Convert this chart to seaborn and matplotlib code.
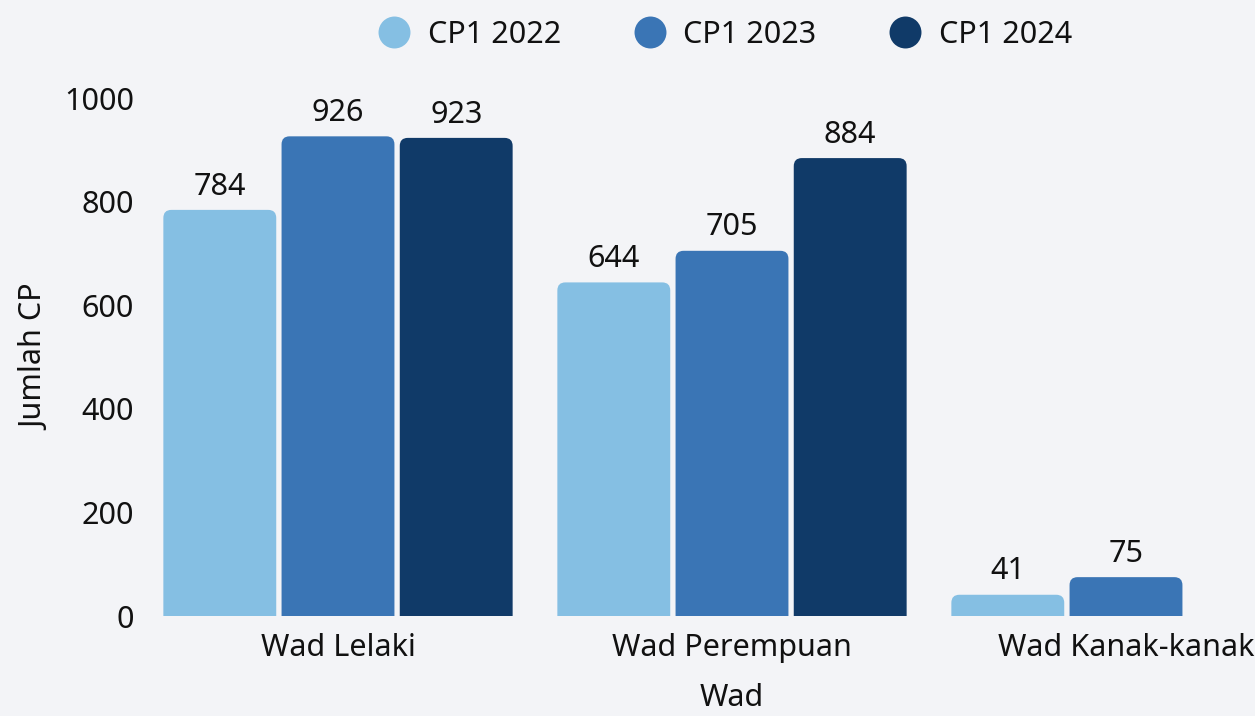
import matplotlib
matplotlib.use("Agg")
import matplotlib.pyplot as plt
import seaborn as sns
import pandas as pd
import numpy as np
from matplotlib.patches import FancyBboxPatch
from matplotlib.lines import Line2D

categories = ["Wad Lelaki", "Wad Perempuan", "Wad Kanak-kanak"]
series_names = ["CP1 2022", "CP1 2023", "CP1 2024"]
cp1_2022 = [784, 644, 41]
cp1_2023 = [926, 705, 75]
cp1_2024 = [923, 884, np.nan]
colors = ["#85BFE3", "#3A75B5", "#103A68"]

rows = []
for name, vals in zip(series_names, [cp1_2022, cp1_2023, cp1_2024]):
    for c, v in zip(categories, vals):
        rows.append({"Wad": c, "Series": name, "Jumlah CP": v})
df = pd.DataFrame(rows)

sns.set_theme(style="white")
plt.rcParams["font.family"] = ["Noto Sans", "DejaVu Sans"]

W, H = 1255, 716
FS = 22
TXT = "#111111"
fig = plt.figure(figsize=(W / 100, H / 100), dpi=100)
bg = "#F3F4F7"
fig.patch.set_facecolor(bg)
ax = fig.add_axes([141 / W, (H - 616) / H, (1323 - 141) / W, (616 - 98) / H])
ax.set_facecolor("none")

sns.barplot(data=df, x="Wad", y="Jumlah CP", hue="Series", order=categories,
            hue_order=series_names, palette=colors, width=0.9, gap=0.045,
            saturation=1, ax=ax, legend=False, errorbar=None)

ax.set_xlim(-0.5, 2.5)
ax.set_ylim(0, 1000)
ax.set_yticks([0, 200, 400, 600, 800, 1000])

for cont in ax.containers:
    labels = [("" if (v is None or np.isnan(v)) else f"{int(round(v))}") for v in cont.datavalues]
    ax.bar_label(cont, labels=labels, padding=6, fontsize=FS, color=TXT)

# rounded top corners
fig.canvas.draw()
px_per_x = ax.transData.transform((1, 0))[0] - ax.transData.transform((0, 0))[0]
px_per_y = ax.transData.transform((0, 1))[1] - ax.transData.transform((0, 0))[1]
aspect = px_per_x / px_per_y
r = 8 / px_per_x
for p in list(ax.patches):
    x, y = p.get_x(), p.get_y()
    w, h = p.get_width(), p.get_height()
    if np.isnan(h) or h == 0:
        p.remove()
        continue
    fc = p.get_facecolor()
    p.remove()
    ext = r * aspect
    fb = FancyBboxPatch((x, y - ext), w, h + ext,
                        boxstyle=f"round,pad=0,rounding_size={r}",
                        mutation_aspect=aspect, facecolor=fc, edgecolor="none",
                        clip_on=True)
    ax.add_patch(fb)

for s in ax.spines.values():
    s.set_visible(False)
ax.tick_params(axis="both", length=0, labelsize=FS, colors=TXT)
ax.tick_params(axis="x", pad=12)
ax.tick_params(axis="y", pad=5)
ax.set_xlabel("Wad", fontsize=FS, color=TXT, labelpad=15)
ax.set_ylabel("Jumlah CP", fontsize=FS, color=TXT, labelpad=10)

handles = [Line2D([0], [0], marker="o", linestyle="none", markersize=23,
                  markerfacecolor=c, markeredgecolor="none") for c in colors]
fig.legend(handles, series_names, loc="center", bbox_to_anchor=(724 / W, 1 - 35 / H),
           ncol=3, frameon=False, fontsize=FS, handletextpad=0.5, columnspacing=2.3,
           labelcolor=TXT, handlelength=1.2)

fig.savefig("out.png", dpi=100, facecolor=bg)
